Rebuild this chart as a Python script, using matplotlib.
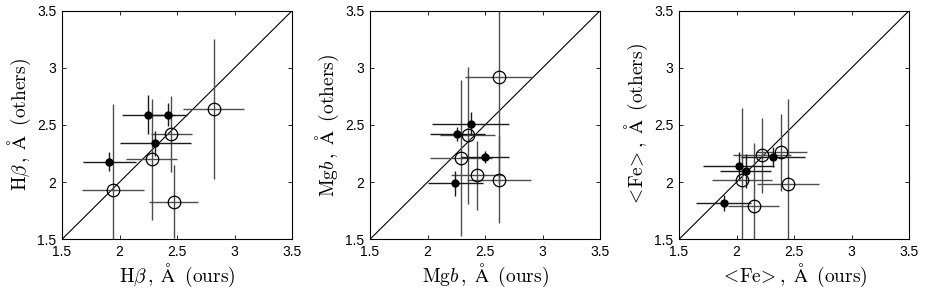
import matplotlib
matplotlib.use("Agg")
import matplotlib.pyplot as plt
import numpy as np

plt.rcParams['mathtext.fontset'] = 'cm'
plt.rcParams['font.family'] = ['Liberation Sans', 'DejaVu Sans']

# Panel 1: Hbeta
hb_fill_x = [1.91, 2.25, 2.42, 2.31]
hb_fill_y = [2.18, 2.59, 2.59, 2.34]
hb_fill_xe = [0.23, 0.23, 0.17, 0.31]
hb_fill_ye = [0.08, 0.17, 0.10, 0.11]
hb_open_x = [1.94, 2.28, 2.45, 2.47, 2.82]
hb_open_y = [1.93, 2.20, 2.42, 1.83, 2.64]
hb_open_xe = [0.27, 0.22, 0.18, 0.21, 0.265]
hb_open_ye = [0.75, 0.53, 0.33, 0.32, 0.615]

# Panel 2: Mgb
mg_fill_x = [2.375, 2.26, 2.50, 2.24]
mg_fill_y = [2.51, 2.42, 2.22, 1.99]
mg_fill_xe = [0.335, 0.24, 0.21, 0.24]
mg_fill_ye = [0.10, 0.06, 0.05, 0.11]
mg_open_x = [2.62, 2.35, 2.29, 2.43, 2.62]
mg_open_y = [2.92, 2.41, 2.21, 2.06, 2.02]
mg_open_xe = [0.29, 0.24, 0.27, 0.23, 0.28]
mg_open_ye = [0.93, 0.60, 0.68, 0.30, 0.38]

# Panel 3: <Fe>
fe_fill_x = [2.02, 2.08, 2.315, 1.89]
fe_fill_y = [2.14, 2.10, 2.22, 1.82]
fe_fill_xe = [0.31, 0.22, 0.28, 0.24]
fe_fill_ye = [0.12, 0.15, 0.09, 0.07]
fe_open_x = [2.22, 2.39, 2.05, 2.45, 2.15]
fe_open_y = [2.235, 2.26, 2.02, 1.98, 1.79]
fe_open_xe = [0.25, 0.22, 0.26, 0.27, 0.22]
fe_open_ye = [0.33, 0.34, 0.63, 0.75, 0.55]

ticks = [1.5, 2, 2.5, 3, 3.5]
tick_labels = ['1.5', '2', '2.5', '3', '3.5']

xlabels = [r'$\mathrm{H}\beta\,,\;\mathrm{\AA}\;\;\mathrm{(ours)}$',
           r'$\mathrm{Mg}b\,,\;\mathrm{\AA}\;\;\mathrm{(ours)}$',
           r'$<\!\mathrm{Fe}\!>,\;\mathrm{\AA}\;\;\mathrm{(ours)}$']
ylabels = [r'$\mathrm{H}\beta\,,\;\mathrm{\AA}\;\;\mathrm{(others)}$',
           r'$\mathrm{Mg}b\,,\;\mathrm{\AA}\;\;\mathrm{(others)}$',
           r'$<\!\mathrm{Fe}\!>,\;\mathrm{\AA}\;\;\mathrm{(others)}$']

panels = [
    (hb_fill_x, hb_fill_y, hb_fill_xe, hb_fill_ye, hb_open_x, hb_open_y, hb_open_xe, hb_open_ye),
    (mg_fill_x, mg_fill_y, mg_fill_xe, mg_fill_ye, mg_open_x, mg_open_y, mg_open_xe, mg_open_ye),
    (fe_fill_x, fe_fill_y, fe_fill_xe, fe_fill_ye, fe_open_x, fe_open_y, fe_open_xe, fe_open_ye),
]

fig = plt.figure(figsize=(9.26, 2.9), dpi=100)
lefts = [0.067, 0.3996, 0.7333]
for i, (fx, fy, fxe, fye, ox, oy, oxe, oye) in enumerate(panels):
    ax = fig.add_axes([lefts[i], 0.175, 0.2484, 0.788])
    ax.plot([1.5, 3.5], [1.5, 3.5], color='black', lw=0.8, zorder=1)
    ax.errorbar(ox, oy, xerr=oxe, yerr=oye, fmt='o', mfc='none', mec='black',
                mew=0.9, ms=9, ecolor='0.3', elinewidth=1.0, capsize=0, zorder=2)
    ax.errorbar(fx, fy, xerr=fxe, yerr=fye, fmt='o', mfc='black', mec='black',
                ms=5, ecolor='0.1', elinewidth=1.0, capsize=0, zorder=3)
    ax.set_xlim(1.5, 3.5)
    ax.set_ylim(1.5, 3.5)
    ax.set_xticks(ticks)
    ax.set_yticks(ticks)
    ax.set_xticklabels(tick_labels)
    ax.set_yticklabels(tick_labels)
    ax.tick_params(direction='in', top=True, right=True, labelsize=10, length=3,
                   width=0.6, pad=4)
    for s in ax.spines.values():
        s.set_linewidth(0.8)
    ax.set_xlabel(xlabels[i], fontsize=14, labelpad=2)
    ax.set_ylabel(ylabels[i], fontsize=14, labelpad=3)

fig.savefig('out.png', dpi=100)
